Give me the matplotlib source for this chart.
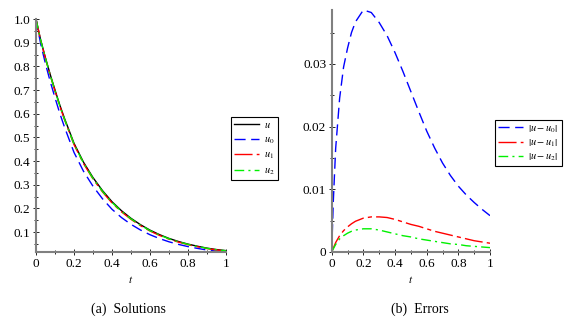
import matplotlib
matplotlib.use("Agg")
import matplotlib.pyplot as plt
from matplotlib.ticker import MultipleLocator

plt.rcParams["font.family"] = "Liberation Serif"
plt.rcParams["mathtext.fontset"] = "stix"

# values
t = [0, 0.01, 0.025, 0.05, 0.075, 0.1, 0.125, 0.15, 0.2, 0.25, 0.3, 0.35, 0.4,
     0.45, 0.5, 0.55, 0.6, 0.65, 0.7, 0.75, 0.8, 0.85, 0.9, 0.95, 1.0]
u = [1.0, 0.963, 0.91, 0.835, 0.765, 0.70, 0.637, 0.58, 0.475, 0.395, 0.33,
     0.275, 0.228, 0.19, 0.158, 0.131, 0.108, 0.089, 0.073, 0.060, 0.049,
     0.040, 0.032, 0.026, 0.0215]
u0 = [1.0, 0.955, 0.8935, 0.8105, 0.7355, 0.6675, 0.602, 0.5433, 0.4364,
      0.3568, 0.2934, 0.2405, 0.1962, 0.1612, 0.1324, 0.1086, 0.0887, 0.0724,
      0.0588, 0.0478, 0.0385, 0.0309, 0.0241, 0.0192, 0.0157]
u1 = [1.0, 0.9624, 0.9085, 0.8324, 0.7616, 0.696, 0.6325, 0.5751, 0.4696,
      0.3894, 0.3244, 0.2695, 0.2228, 0.1852, 0.1536, 0.1269, 0.1043, 0.0857,
      0.0700, 0.0573, 0.0466, 0.0379, 0.0302, 0.0244, 0.0201]
u2 = [1.0, 0.9625, 0.9088, 0.8329, 0.7624, 0.697, 0.6337, 0.5765, 0.4713,
      0.3913, 0.3265, 0.2718, 0.2251, 0.1874, 0.1556, 0.1289, 0.1061, 0.0873,
      0.0715, 0.0587, 0.0478, 0.0390, 0.0311, 0.0252, 0.0208]
err0 = [0, 0.008, 0.0165, 0.0245, 0.0295, 0.0325, 0.0350, 0.0367, 0.0386,
        0.0382, 0.0366, 0.0345, 0.0318, 0.0288, 0.0256, 0.0224, 0.0193, 0.0166,
        0.0142, 0.0122, 0.0105, 0.0091, 0.0079, 0.0068, 0.0058]
err1 = [0, 0.0006, 0.0015, 0.0026, 0.0034, 0.0040, 0.0045, 0.0049, 0.0054,
        0.0056, 0.0056, 0.0055, 0.0052, 0.0048, 0.0044, 0.0041, 0.0037, 0.0033,
        0.0030, 0.0027, 0.0024, 0.0021, 0.0018, 0.0016, 0.0014]
err2 = [0, 0.0005, 0.0012, 0.0021, 0.0026, 0.0030, 0.0033, 0.0035, 0.0037,
        0.0037, 0.0035, 0.0032, 0.0029, 0.0026, 0.0024, 0.0021, 0.0019, 0.0017,
        0.0015, 0.0013, 0.0012, 0.0010, 0.0009, 0.0008, 0.0007]

sol_labels = [r"$u$", r"$u_{\mathit{0}}$", r"$u_{\mathit{1}}$", r"$u_{\mathit{2}}$"]
err_labels = [r"$\left|u-u_{\mathit{0}}\right|$", r"$\left|u-u_{\mathit{1}}\right|$",
              r"$\left|u-u_{\mathit{2}}\right|$"]
x_ticks = [0, 0.2, 0.4, 0.6, 0.8, 1]
x_ticklabels = ["0", "0.2", "0.4", "0.6", "0.8", "1"]

W, H = 574, 323
fig = plt.figure(figsize=(W / 100, H / 100), dpi=100)
ax1 = fig.add_axes([36 / W, 1 - 252 / H, 190 / W, 233 / H])
ax2 = fig.add_axes([331.7 / W, 1 - 252 / H, 158.3 / W, 242 / H])

blue_ls = (0, (8, 4))
red_ls = (0, (13, 3, 3, 3))
green_ls = (0, (7, 3, 1.5, 3))
green = "#00f000"

ax1.plot(t, u, color="black", lw=1.0, label=sol_labels[0])
ax1.plot(t, u0, color="blue", lw=1.0, ls=blue_ls, label=sol_labels[1])
ax1.plot(t, u1, color="red", lw=1.0, ls=red_ls, label=sol_labels[2])
ax1.plot(t, u2, color=green, lw=1.0, ls=green_ls, label=sol_labels[3])
ax1.set_ylim(min(u0), 1.0)
ax1.set_yticks([0.1, 0.2, 0.3, 0.4, 0.5, 0.6, 0.7, 0.8, 0.9, 1.0])
ax1.set_yticklabels(["0.1", "0.2", "0.3", "0.4", "0.5", "0.6", "0.7", "0.8",
                     "0.9", "1.0"])
ax1.yaxis.set_minor_locator(MultipleLocator(0.05))

ax2.plot(t, err0, color="blue", lw=1.0, ls=blue_ls, label=err_labels[0])
ax2.plot(t, err1, color="red", lw=1.0, ls=red_ls, label=err_labels[1])
ax2.plot(t, err2, color=green, lw=1.0, ls=green_ls, label=err_labels[2])
ax2.set_ylim(0, max(err0))
ax2.set_yticks([0, 0.01, 0.02, 0.03])
ax2.set_yticklabels(["0", "0.01", "0.02", "0.03"])
ax2.yaxis.set_minor_locator(MultipleLocator(0.005))

for ax in (ax1, ax2):
    ax.set_xlim(0, 1)
    ax.set_xticks(x_ticks)
    ax.set_xticklabels(x_ticklabels)
    ax.xaxis.set_minor_locator(MultipleLocator(0.1))
    for s in ("top", "right"):
        ax.spines[s].set_visible(False)
    for s in ("left", "bottom"):
        ax.spines[s].set_color("#808080")
        ax.spines[s].set_linewidth(1.5)
    ax.tick_params(which="both", direction="inout", labelsize=9.5, pad=2,
                   color="black", width=0.6)
    ax.tick_params(which="major", length=4)
    ax.tick_params(which="minor", length=3)
    ax.set_xlabel(r"$t$", fontsize=8, labelpad=3)

ax1.legend(loc="upper left", bbox_to_anchor=(231 / W, 1 - 117 / H),
           bbox_transform=fig.transFigure, borderaxespad=0, fancybox=False,
           edgecolor="black", framealpha=1, fontsize=7.5, handlelength=2.4,
           handletextpad=0.5, labelspacing=0.4, borderpad=0.3)
leg2 = ax2.legend(loc="upper left", bbox_to_anchor=(495 / W, 1 - 120 / H),
                  bbox_transform=fig.transFigure, borderaxespad=0,
                  fancybox=False, edgecolor="black", framealpha=1, fontsize=7.5,
                  handlelength=2.4, handletextpad=0.5, labelspacing=0.25,
                  borderpad=0.3)
for leg in (ax1.get_legend(), leg2):
    leg.get_frame().set_linewidth(0.8)

fig.text(128 / W, 1 - 309 / H, "(a)  Solutions", ha="center", va="center",
         fontsize=10)
fig.text(420 / W, 1 - 309 / H, "(b)  Errors", ha="center", va="center",
         fontsize=10)

fig.savefig("out.png", dpi=100)
